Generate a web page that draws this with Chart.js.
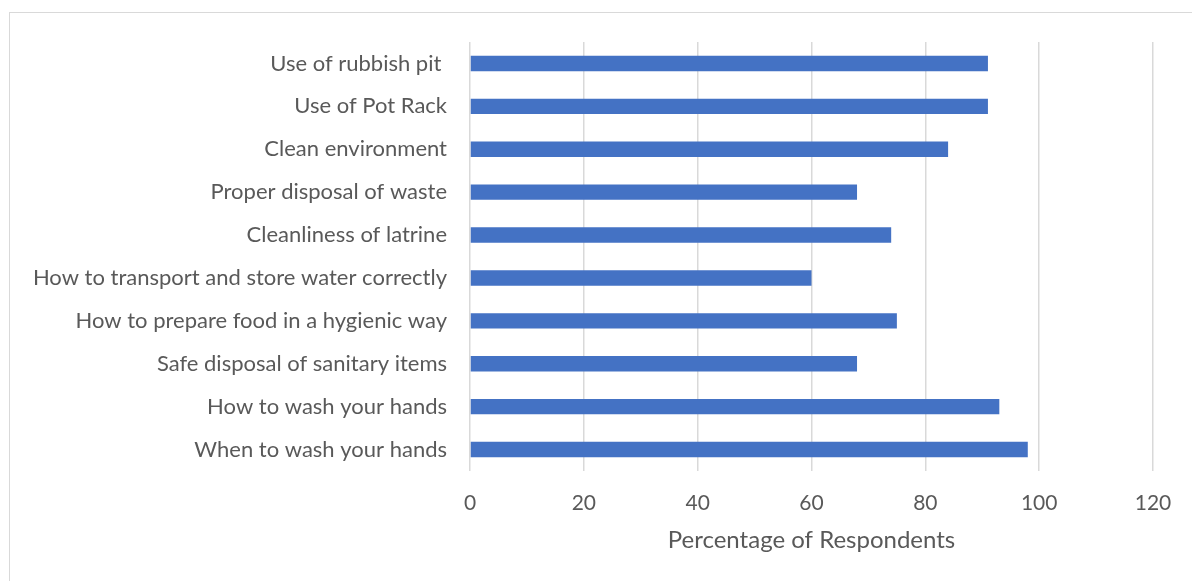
<!DOCTYPE html>
<html>
<head>
<meta charset="utf-8">
<script src="https://cdn.jsdelivr.net/npm/chart.js@4"></script>
<style>
  html, body { margin: 0; padding: 0; background: #fff; }
  #wrap { position: relative; width: 1192px; height: 581px; overflow: hidden; }
  #frame {
    position: absolute; left: 9px; top: 12px; width: 1200px; height: 600px;
    border-left: 1.5px solid #d9d9d9; border-top: 1.5px solid #d9d9d9;
  }
  #chart { position: absolute; left: 0; top: 0; }
</style>
</head>
<body>
<div id="wrap">
  <div id="frame"></div>
  <canvas id="chart" width="1192" height="581"></canvas>
</div>
<script>
'use strict';

const topics = [
  'Use of rubbish pit ',
  'Use of Pot Rack',
  'Clean environment',
  'Proper disposal of waste',
  'Cleanliness of latrine',
  'How to transport and store water correctly',
  'How to prepare food in a hygienic way',
  'Safe disposal of sanitary items',
  'How to wash your hands',
  'When to wash your hands'
];
const percentages = [91, 91, 84, 68, 74, 60, 75, 68, 93, 98];
const axisMax = 120;
const axisStep = 20;

const canvasElem = document.getElementById('chart');
const textColor = '#595959';
const fontFamily = 'Lato, "Open Sans", sans-serif';

function renderChart() {
  const ctx = canvasElem.getContext('2d');

  const chartData = {
    labels: topics,
    datasets: [{
      label: 'Percentage of Respondents',
      data: percentages,
      backgroundColor: '#4472c4',
      categoryPercentage: 1,
      barPercentage: 0.36
    }]
  };

  const chartOptions = {
    indexAxis: 'y',
    responsive: false,
    animation: false,
    layout: { padding: { top: 42, right: 39, bottom: 0, left: 0 } },
    plugins: {
      legend: { display: false },
      tooltip: { enabled: false }
    },
    scales: {
      x: {
        min: 0,
        max: axisMax,
        ticks: {
          stepSize: axisStep,
          padding: 20,
          color: textColor,
          font: { family: fontFamily, size: 21 }
        },
        grid: { color: '#d9d9d9', lineWidth: 1.5, drawTicks: false },
        border: { display: false },
        title: {
          display: true,
          text: 'Percentage of Respondents',
          color: textColor,
          font: { family: fontFamily, size: 24 },
          padding: { top: 10, bottom: 26 }
        },
        // keep the plot area bottom fixed
        afterFit: scale => { scale.height = 110; }
      },
      y: {
        ticks: {
          padding: 15,
          color: textColor,
          font: { family: fontFamily, size: 22 }
        },
        grid: { display: false },
        border: { display: false },
        afterFit: scale => { scale.width = 470; }
      }
    }
  };

  new Chart(ctx, {
    type: 'bar',
    data: chartData,
    options: chartOptions
  });
}

renderChart();
</script>
</body>
</html>
